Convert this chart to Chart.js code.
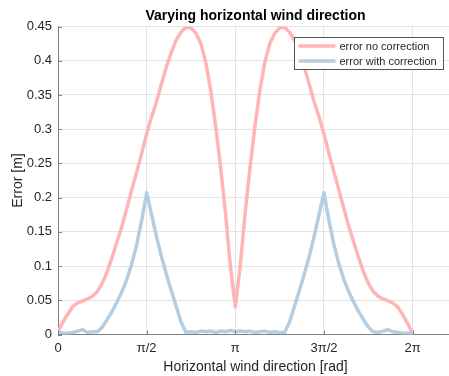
<!DOCTYPE html>
<html>
<head>
<meta charset="utf-8">
<script src="https://cdn.jsdelivr.net/npm/chart.js@4.4.1/dist/chart.umd.min.js"></script>
<style>
  html, body { margin: 0; padding: 0; background: #fff; overflow: hidden; }
  canvas { display: block; }
</style>
</head>
<body>
<canvas id="windChart" width="460" height="376"></canvas>
<script>
// wind direction in degrees (axis labelled in radians)
const angleDeg = [
  0, 5, 10, 15, 20, 25, 30, 35, 40, 45, 50, 55, 60, 65, 70, 75, 80, 85, 90,
  95, 100, 105, 110, 115, 120, 125, 130, 135, 140, 145, 150, 155, 160, 165, 170, 175, 180,
  185, 190, 195, 200, 205, 210, 215, 220, 225, 230, 235, 240, 245, 250, 255, 260, 265, 270,
  275, 280, 285, 290, 295, 300, 305, 310, 315, 320, 325, 330, 335, 340, 345, 350, 355, 360
];

const errNoCorrection = [
  0.005, 0.018, 0.030, 0.041, 0.046, 0.049, 0.052, 0.056, 0.063, 0.075, 0.092, 0.113, 0.136, 0.159, 0.185, 0.212, 0.238, 0.265, 0.293,
  0.318, 0.340, 0.366, 0.391, 0.412, 0.430, 0.442, 0.449, 0.448, 0.440, 0.425, 0.398, 0.357, 0.305, 0.245, 0.178, 0.100, 0.040,
  0.100, 0.178, 0.245, 0.305, 0.357, 0.398, 0.425, 0.440, 0.448, 0.449, 0.442, 0.430, 0.412, 0.391, 0.366, 0.340, 0.318, 0.293,
  0.265, 0.238, 0.212, 0.185, 0.159, 0.136, 0.113, 0.092, 0.075, 0.063, 0.056, 0.052, 0.049, 0.046, 0.040, 0.029, 0.016, 0.001
];

const errWithCorrection = [
  0.004, 0.002, 0.002, 0.003, 0.005, 0.007, 0.003, 0.004, 0.004, 0.011, 0.022, 0.034, 0.048, 0.063, 0.081, 0.104, 0.132, 0.167, 0.207,
  0.175, 0.143, 0.114, 0.088, 0.064, 0.041, 0.018, 0.003, 0.004, 0.003, 0.005, 0.004, 0.005, 0.003, 0.005, 0.004, 0.006, 0.004,
  0.005, 0.004, 0.005, 0.003, 0.004, 0.005, 0.003, 0.004, 0.003, 0.003, 0.018, 0.041, 0.064, 0.088, 0.114, 0.143, 0.175, 0.207,
  0.167, 0.132, 0.104, 0.081, 0.063, 0.048, 0.034, 0.022, 0.011, 0.004, 0.003, 0.005, 0.007, 0.004, 0.003, 0.002, 0.002, 0.002
];

const xTickValues = [0, 90, 180, 270, 360];
const xTickLabels = ['0', 'π/2', 'π', '3π/2', '2π'];
const yTickValues = [0, 0.05, 0.1, 0.15, 0.2, 0.25, 0.3, 0.35, 0.4, 0.45];
const yTickLabels = ['0', '0.05', '0.1', '0.15', '0.2', '0.25', '0.3', '0.35', '0.4', '0.45'];

const seriesLabels = ['error no correction', 'error with correction'];
const seriesColors = ['rgb(255,181,181)', 'rgb(179,206,226)'];

const FONT = 'Helvetica, Arial, "Liberation Sans", sans-serif';
const TEXT = '#262626';
const AXIS = '#808080';

// inward tick marks plus a boxed legend inside the axes
const axesExtras = {
  id: 'axesExtras',
  afterDatasetsDraw(chart) {
    const ctx = chart.ctx;
    const xs = chart.scales.x, ys = chart.scales.y;
    const area = chart.chartArea;
    ctx.save();
    ctx.strokeStyle = AXIS;
    ctx.lineWidth = 1;
    ctx.beginPath();
    xTickValues.forEach(v => {
      const px = Math.round(xs.getPixelForValue(v)) + 0.5;
      ctx.moveTo(px, area.bottom);
      ctx.lineTo(px, area.bottom - 4);
    });
    yTickValues.forEach(v => {
      const py = Math.round(ys.getPixelForValue(v)) + 0.5;
      ctx.moveTo(area.left, py);
      ctx.lineTo(area.left + 4, py);
    });
    ctx.stroke();

    // legend
    const bx = 294.5, by = 37.5, bw = 149, bh = 32;
    ctx.fillStyle = '#fff';
    ctx.fillRect(bx, by, bw, bh);
    ctx.strokeStyle = '#555';
    ctx.strokeRect(bx, by, bw, bh);
    ctx.font = '11px ' + FONT;
    ctx.textBaseline = 'middle';
    ctx.fillStyle = TEXT;
    chart.data.datasets.forEach((ds, i) => {
      const y = by + 8.5 + i * 15;
      ctx.strokeStyle = ds.borderColor;
      ctx.lineWidth = 3.5;
      ctx.beginPath();
      ctx.moveTo(bx + 4, y);
      ctx.lineTo(bx + 41, y);
      ctx.stroke();
      ctx.fillText(ds.label, bx + 45, y + 0.5);
    });
    ctx.restore();
  }
};

const ctx = document.getElementById('windChart').getContext('2d');
new Chart(ctx, {
  type: 'line',
  data: {
    datasets: [
      {
        label: seriesLabels[0],
        data: angleDeg.map((a, i) => ({ x: a, y: errNoCorrection[i] })),
        borderColor: seriesColors[0],
        borderWidth: 3.5,
        borderJoinStyle: 'round',
        borderCapStyle: 'round',
        pointRadius: 0,
        tension: 0,
        order: 1
      },
      {
        label: seriesLabels[1],
        data: angleDeg.map((a, i) => ({ x: a, y: errWithCorrection[i] })),
        borderColor: seriesColors[1],
        borderWidth: 3.5,
        borderJoinStyle: 'round',
        borderCapStyle: 'round',
        pointRadius: 0,
        tension: 0,
        order: 0
      }
    ]
  },
  options: {
    responsive: false,
    animation: false,
    devicePixelRatio: 1,
    layout: { padding: { left: 0, right: 7, top: 0, bottom: 0 } },
    plugins: {
      legend: { display: false },
      tooltip: { enabled: false },
      title: {
        display: true,
        text: 'Varying horizontal wind direction',
        fullSize: false,
        color: '#000',
        font: { family: FONT, size: 14, weight: 'bold' },
        padding: { top: 7.8, bottom: 1.9 }
      }
    },
    scales: {
      x: {
        type: 'linear',
        min: 0,
        max: 401,
        afterBuildTicks: scale => { scale.ticks = xTickValues.map(v => ({ value: v })); },
        afterFit: scale => { scale.height = 41.5; },
        ticks: {
          color: TEXT,
          font: { family: FONT, size: 13 },
          padding: 6,
          maxRotation: 0,
          callback: (v) => xTickLabels[xTickValues.indexOf(v)]
        },
        grid: { color: '#e3e3e3', drawTicks: false },
        border: { color: AXIS },
        title: {
          display: true,
          text: 'Horizontal wind direction [rad]',
          color: TEXT,
          font: { family: FONT, size: 14 },
          padding: { top: 1.6, bottom: 0 }
        }
      },
      y: {
        min: 0,
        max: 0.45,
        afterBuildTicks: scale => { scale.ticks = yTickValues.map(v => ({ value: v })); },
        afterFit: scale => { scale.width = 58; },
        ticks: {
          color: TEXT,
          font: { family: FONT, size: 13 },
          padding: 6,
          callback: (v) => yTickLabels[yTickValues.indexOf(v)]
        },
        grid: { color: '#e3e3e3', drawTicks: false },
        border: { color: AXIS },
        title: {
          display: true,
          text: 'Error [m]',
          color: TEXT,
          font: { family: FONT, size: 14 },
          padding: { top: 9.5, bottom: 0 }
        }
      }
    }
  },
  plugins: [axesExtras]
});
</script>
</body>
</html>
